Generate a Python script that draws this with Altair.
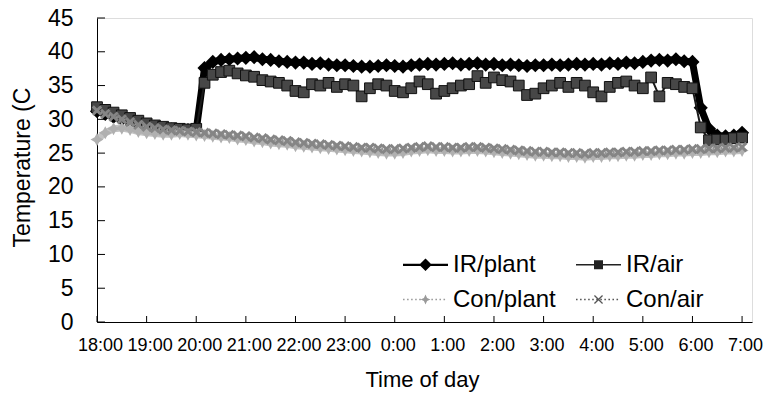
import altair as alt
import pandas as pd

# ---- data (10-minute readings starting 18:00) ----
series_names = ["IR/plant", "IR/air", "Con/plant", "Con/air"]

ir_plant = [31.2, 30.8, 30.4, 30.0, 29.6, 29.3, 29.0, 28.8, 28.6, 28.5, 28.4, 28.4, 28.4,
            37.6, 38.5, 38.8, 38.9, 39.0, 39.1, 39.2, 38.9, 38.8, 38.6, 38.5,
            38.4, 38.4, 38.2, 38.3, 38.1, 38.0,
            38.0, 37.9, 37.8, 37.8, 37.9, 38.0,
            37.9, 37.8, 38.0, 38.1, 38.2, 38.1,
            38.2, 38.3, 38.1, 38.2, 38.3, 38.1,
            38.2, 38.0, 38.1, 38.0, 37.9, 38.0,
            38.0, 38.1, 38.0, 38.1, 38.2, 38.1,
            38.2, 38.1, 38.3, 38.2, 38.4, 38.3,
            38.5, 38.7, 38.8, 38.7, 38.9, 38.6,
            38.5, 31.7, 28.6, 27.6, 27.5, 27.6, 28.0]

ir_air = [31.8, 31.4, 31.0, 30.6, 30.2, 29.8, 29.4, 29.1, 28.9, 28.7, 28.6, 28.5, 28.6,
          35.4, 36.6, 37.0, 37.2, 36.8, 36.5, 36.3, 35.8, 35.6, 35.4, 35.0,
          34.2, 34.0, 35.2, 35.0, 35.4, 34.8,
          35.2, 35.0, 33.4, 34.6, 35.2, 35.0,
          34.2, 34.0, 34.6, 35.6, 35.2, 33.8,
          34.2, 34.6, 35.0, 35.2, 36.4, 35.4,
          36.2, 35.8, 35.6, 35.0, 33.6, 33.8,
          34.6, 35.0, 35.4, 34.8, 35.4, 35.0,
          34.0, 33.4, 34.8, 35.4, 35.6, 35.0,
          34.6, 36.2, 33.4, 35.4, 35.2, 34.8,
          34.6, 28.8, 26.9, 27.0, 27.0, 27.2, 27.3]

con_plant = [27.0, 28.0, 28.6, 28.7, 28.5, 28.2, 28.0, 27.9, 27.8, 27.8, 27.9, 27.8, 27.7,
             27.6, 27.5, 27.4, 27.3, 27.1, 27.0,
             26.8, 26.7, 26.5, 26.4, 26.3, 26.1,
             26.0, 25.9, 25.8, 25.7, 25.6, 25.5,
             25.4, 25.3, 25.2, 25.1, 25.0, 25.0,
             25.1, 25.3, 25.4, 25.5, 25.4, 25.4,
             25.3, 25.3, 25.4, 25.4, 25.3, 25.2,
             25.1, 25.0, 24.9, 24.8, 24.7, 24.7,
             24.6, 24.6, 24.5, 24.5, 24.4, 24.5,
             24.5, 24.6, 24.6, 24.7, 24.7, 24.8,
             24.8, 24.9, 24.9, 25.0, 25.0, 25.1,
             25.1, 25.2, 25.2, 25.3, 25.3, 25.4]

con_air = [31.3, 30.8, 30.4, 30.0, 29.6, 29.2, 28.9, 28.7, 28.5, 28.4, 28.3, 28.2, 28.1,
           28.0, 27.9, 27.8, 27.7, 27.6, 27.5,
           27.3, 27.2, 27.0, 26.9, 26.8, 26.6,
           26.5, 26.4, 26.3, 26.2, 26.1, 26.0,
           25.9, 25.8, 25.8, 25.7, 25.6, 25.6,
           25.7, 25.8, 25.9, 26.0, 25.9, 25.9,
           25.8, 25.8, 25.9, 25.9, 25.8, 25.7,
           25.6, 25.5, 25.4, 25.3, 25.2, 25.2,
           25.1, 25.1, 25.0, 25.0, 24.9, 25.0,
           25.0, 25.1, 25.1, 25.2, 25.2, 25.3,
           25.3, 25.4, 25.4, 25.5, 25.5, 25.6,
           25.6, 25.7, 25.7, 25.8, 25.8, 25.9]

minutes_after_18 = list(range(0, 790, 10))
hour_ticks = list(range(0, 14))          # 18:00 ... 7:00
temp_ticks = [0, 5, 10, 15, 20, 25, 30, 35, 40, 45]

values = {"IR/plant": ir_plant, "IR/air": ir_air, "Con/plant": con_plant, "Con/air": con_air}
rows = []
for name in series_names:
    for m, v in zip(minutes_after_18, values[name]):
        rows.append({"hour": m / 60.0, "temp": v, "series": name})
df = pd.DataFrame(rows)

FONT = "Liberation Sans"
xscale = alt.Scale(domain=[0, 13.2], nice=False, zero=False)
yscale = alt.Scale(domain=[0, 45], nice=False)

xaxis = alt.Axis(values=hour_ticks, labelExpr="((datum.value + 18) % 24) + ':00'",
                 ticks=False, tickSize=0, grid=False, labelFontSize=18, labelPadding=14,
                 labelOffset=3,
                 labelFont=FONT, labelColor="black", domainColor="black",
                 title="Time of day", titleFontSize=22, titleFont=FONT, titleFontWeight="normal",
                 titleColor="black", titleX=325, titleY=57, titleBaseline="middle",
                 titleAlign="center", labelFlush=False, labelOverlap=False)
yaxis = alt.Axis(values=temp_ticks, ticks=False, tickSize=0, grid=False, labelFontSize=23,
                 labelPadding=24, labelFont=FONT, labelColor="black", domainColor="black",
                 title="Temperature (C", titleFontSize=23, titleFont=FONT, titleFontWeight="normal",
                 titleColor="black", titleX=-75, titleY=149, titleBaseline="middle",
                 titleAlign="center", titleAngle=270, labelFlush=False)

base = alt.Chart(df)
X = alt.X("hour:Q", scale=xscale, axis=xaxis)
Y = alt.Y("temp:Q", scale=yscale, axis=yaxis)


def line_layer(name, color, width, dash=None):
    kw = dict(color=color, strokeWidth=width)
    if dash:
        kw["strokeDash"] = dash
    return base.transform_filter(alt.datum.series == name).mark_line(**kw).encode(x=X, y=Y)


def point_layer(name, shape, size, fill, stroke=None, sw=0):
    kw = dict(shape=shape, size=size, filled=True, fill=fill, opacity=1)
    if stroke:
        kw["stroke"] = stroke
        kw["strokeWidth"] = sw
    return base.transform_filter(alt.datum.series == name).mark_point(**kw).encode(x=X, y=Y)


STAR = "M0,-1L0.35,-0.35L1,0L0.35,0.35L0,1L-0.35,0.35L-1,0L-0.35,-0.35Z"
XSHAPE = ("M-1,-0.6L-0.6,-1L0,-0.4L0.6,-1L1,-0.6L0.4,0L1,0.6L0.6,1L0,0.4"
          "L-0.6,1L-1,0.6L-0.4,0Z")

layers = [
    line_layer("IR/plant", "black", 7),
    point_layer("IR/plant", "diamond", 200, "black"),
    line_layer("IR/air", "#1a1a1a", 2),
    point_layer("IR/air", "square", 115, "#474747", "#111111", 1),
    line_layer("Con/plant", "#c2c2c2", 7),
    point_layer("Con/plant", STAR, 170, "#b0b0b0"),
    line_layer("Con/air", "#959595", 3, [2, 2]),
    point_layer("Con/air", XSHAPE, 110, "#858585"),
]

# inside tick marks
ydf = pd.DataFrame({"t": temp_ticks})
xdf = pd.DataFrame({"h": hour_ticks})
yticks = alt.Chart(ydf).mark_rule(color="black", strokeWidth=1).encode(
    y=alt.Y("t:Q", scale=yscale, axis=yaxis), x=alt.value(0), x2=alt.value(8))
xticks = alt.Chart(xdf).mark_rule(color="black", strokeWidth=1).encode(
    x=alt.X("h:Q", scale=xscale, axis=xaxis), y=alt.value(304), y2=alt.value(298))


# legend symbols (line + marker), drawn only in the legend
def dotted(step=0.18, dot=0.07, h=0.03):
    parts = []
    xx = -1.0
    while xx < 1.0 - dot:
        parts.append(f"M{xx:.3f},{-h}h{dot}v{2*h}h{-dot}Z")
        xx += step
    return "".join(parts)


sym_ir_plant = "M-1,-0.05H1V0.05H-1Z M0,-0.28L0.28,0L0,0.28L-0.28,0Z"
sym_ir_air = "M-1,-0.035H1V0.035H-1Z M-0.2,-0.2H0.2V0.2H-0.2Z"
sym_con_plant = dotted() + " M0,-0.22L0.07,-0.07L0.22,0L0.07,0.07L0,0.22L-0.07,0.07L-0.22,0L-0.07,-0.07Z"
sym_con_air = dotted() + (" M-0.2,-0.16L-0.16,-0.2L0,-0.04L0.16,-0.2L0.2,-0.16L0.04,0L0.2,0.16"
                          "L0.16,0.2L0,0.04L-0.16,0.2L-0.2,0.16L-0.04,0Z")

legend_layer = base.transform_filter("datum.temp > 1000").mark_point(
    filled=True, opacity=1).encode(
    x=X, y=Y,
    color=alt.Color("series:N", scale=alt.Scale(domain=series_names,
                    range=["black", "#222222", "#9a9a9a", "#555555"]),
                    legend=alt.Legend(title=None, orient="none", direction="horizontal",
                                      legendX=306, legendY=224,
                                      columns=2, columnPadding=20, rowPadding=-11,
                                      symbolSize=2025, labelFontSize=24, labelFont=FONT,
                                      labelColor="black", labelOffset=5, symbolStrokeWidth=0,
                                      symbolOpacity=1, padding=0, labelLimit=300)),
    shape=alt.Shape("series:N", scale=alt.Scale(domain=series_names,
                    range=[sym_ir_plant, sym_ir_air, sym_con_plant, sym_con_air]),
                    legend=None),
)

chart = alt.layer(*layers, yticks, xticks, legend_layer).properties(
    width=655, height=304,
    autosize=alt.AutoSizeParams(type="none"),
    padding={"left": 97, "top": 18, "right": 13, "bottom": 74},
).configure_view(stroke=None).configure(font=FONT)

chart.save("out.html", embed_options={"renderer": "svg", "actions": False})
